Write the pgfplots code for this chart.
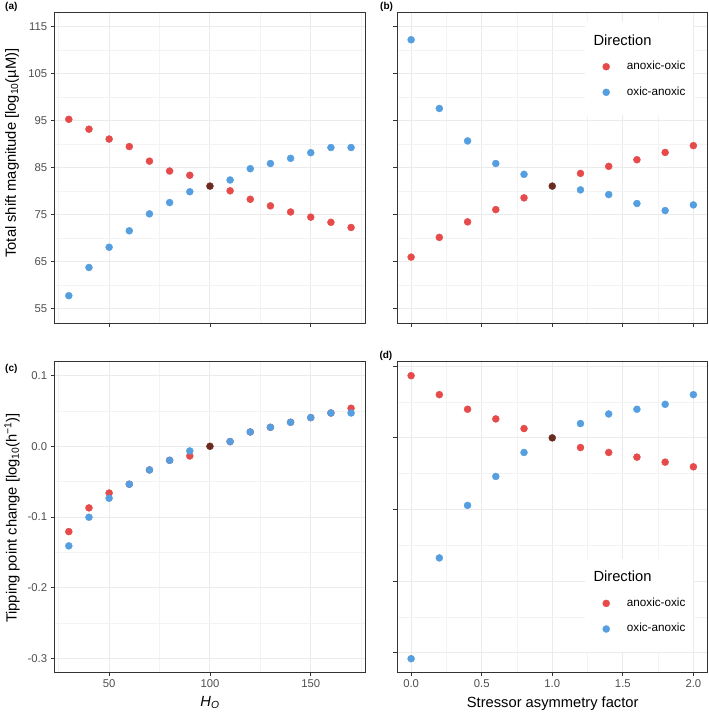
\documentclass[border=0pt]{standalone}
\usepackage{pgfplots}
\pgfplotsset{compat=1.18}
\usepackage{fontspec}
\setmainfont{Liberation Sans}
\definecolor{cred}{HTML}{E64A4A}
\definecolor{cblue}{HTML}{559FE0}
\definecolor{cbrown}{HTML}{6B2B20}
\definecolor{gridmaj}{HTML}{EBEBEB}
\definecolor{gridmin}{HTML}{F3F3F3}
\definecolor{axcol}{HTML}{333333}
\definecolor{ticktext}{HTML}{4D4D4D}
\newcommand{\tickfont}{\fontsize{11.3}{13}\selectfont}
\newcommand{\titlefont}{\fontsize{14.7}{17}\selectfont}
\newcommand{\legfont}{\fontsize{11.7}{14}\selectfont}
\newcommand{\tagfont}{\fontsize{10}{12}\selectfont\bfseries}
\newcommand{\tn}[1]{\textnormal{#1}}
\pgfplotsset{
  panel/.style={
    width=310.5pt, height=310.5pt, scale only axis,
    axis line style={axcol, line width=0.9pt},
    tick style={axcol, line width=0.9pt},
    major tick length=4pt, minor tick length=0pt,
    tick align=outside, xtick pos=bottom, ytick pos=left,
    grid=both,
    major grid style={gridmaj, line width=1pt},
    minor grid style={gridmin, line width=0.6pt},
    ticklabel style={font=\tickfont, text=ticktext},
  },
  nolabelx/.style={xticklabel style={opacity=0}},
  nolabely/.style={yticklabel style={opacity=0}},
  dots/.style={only marks, mark=*, mark size=3.5pt, color=#1},
  dirlegend/.style={
    legend image code/.code={\draw[##1] plot coordinates {(21pt,3pt)}; \path[draw=none,fill=none] (0pt,0pt) -- (41.7pt,0pt);},
    legend style={at={(0.6055,#1)}, anchor=north west, draw=none, fill=white,
      inner sep=0pt, row sep=0pt, column sep=0pt,
      nodes={inner sep=0pt, anchor=base west, text depth=}},
  },
}
\begin{document}
\begin{tikzpicture}[x=1pt,y=1pt]
\useasboundingbox (0,0) rectangle (709,712);
% (a)
\begin{axis}[panel, nolabelx, at={(54.7pt,389pt)}, anchor=south west,
  xmin=23, xmax=177, ymin=52, ymax=118,
  xtick={50,100,150}, minor xtick={25,75,125,175},
  ytick={55,65,75,85,95,105,115}, yticklabels={\tn{55},\tn{65},\tn{75},\tn{85},\tn{95},\tn{105},\tn{115}},
  minor ytick={60,70,80,90,100,110}]
\addplot[dots=cred] coordinates {(30,95.3)(40,93.2)(50,91.1)(60,89.5)(70,86.4)(80,84.3)(90,83.4)(110,80.1)(120,78.3)(130,76.9)(140,75.6)(150,74.5)(160,73.4)(170,72.3)};
\addplot[dots=cblue] coordinates {(30,57.8)(40,63.8)(50,68.1)(60,71.6)(70,75.2)(80,77.6)(90,79.9)(110,82.4)(120,84.8)(130,85.9)(140,87.0)(150,88.2)(160,89.3)(170,89.3)};
\addplot[dots=cbrown] coordinates {(100,81.1)};
\end{axis}
% (b)
\begin{axis}[panel, nolabelx, nolabely, dirlegend=0.970, at={(397pt,389pt)}, anchor=south west,
  xmin=-0.1, xmax=2.1, ymin=52, ymax=118,
  xtick={0,0.5,1,1.5,2}, minor xtick={0.25,0.75,1.25,1.75},
  ytick={55,65,75,85,95,105,115},
  minor ytick={60,70,80,90,100,110}]
\addlegendimage{empty legend}
\addlegendentry{\hspace*{-33.4pt}\titlefont Direction\rule[-8pt]{0pt}{31.2pt}}
\addplot[dots=cred] coordinates {(0,66.0)(0.2,70.2)(0.4,73.5)(0.6,76.1)(0.8,78.6)(1.2,83.8)(1.4,85.3)(1.6,86.7)(1.8,88.25)(2.0,89.7)};
\addlegendentry{\legfont anoxic-oxic\hspace*{8pt}\rule[-10pt]{0pt}{26.5pt}}
\addplot[dots=cblue] coordinates {(0,112.2)(0.2,97.6)(0.4,90.7)(0.6,85.9)(0.8,83.6)(1.2,80.3)(1.4,79.3)(1.6,77.4)(1.8,75.9)(2.0,77.1)};
\addlegendentry{\legfont oxic-anoxic\hspace*{8pt}\rule[-19.7pt]{0pt}{35.3pt}}
\addplot[dots=cbrown, forget plot] coordinates {(1,81.1)};
\end{axis}
% (c)
\begin{axis}[panel, at={(54.7pt,39.7pt)}, anchor=south west,
  xmin=23, xmax=177, ymin=-0.3192, ymax=0.1193,
  xtick={50,100,150}, xticklabels={\tn{50},\tn{100},\tn{150}}, minor xtick={25,75,125,175},
  ytick={-0.3,-0.2,-0.1,0,0.1}, yticklabels={\tn{-0.3},\tn{-0.2},\tn{-0.1},\tn{0.0},\tn{0.1}},
  minor ytick={-0.25,-0.15,-0.05,0.05}]
\addplot[dots=cred] coordinates {(30,-0.1205)(40,-0.087)(50,-0.066)(60,-0.0536)(70,-0.0334)(80,-0.0198)(90,-0.0137)(110,0.0066)(120,0.0202)(130,0.0268)(140,0.0339)(150,0.0405)(160,0.047)(170,0.0537)};
\addplot[dots=cblue] coordinates {(30,-0.1407)(40,-0.1002)(50,-0.0734)(60,-0.0536)(70,-0.0334)(80,-0.0198)(90,-0.0066)(110,0.0066)(120,0.0202)(130,0.0268)(140,0.0339)(150,0.0405)(160,0.047)(170,0.047)};
\addplot[dots=cbrown] coordinates {(100,0)};
\end{axis}
% (d)
\begin{axis}[panel, nolabely, dirlegend=0.3665, at={(397pt,39.7pt)}, anchor=south west,
  xmin=-0.1, xmax=2.1, ymin=-0.3275, ymax=0.1063,
  xtick={0,0.5,1,1.5,2}, xticklabels={\tn{0.0},\tn{0.5},\tn{1.0},\tn{1.5},\tn{2.0}}, minor xtick={0.25,0.75,1.25,1.75},
  ytick={-0.3,-0.2,-0.1,0,0.1},
  minor ytick={-0.25,-0.15,-0.05,0.05}]
\addlegendimage{empty legend}
\addlegendentry{\hspace*{-33.4pt}\titlefont Direction\rule[-8pt]{0pt}{31.2pt}}
\addplot[dots=cred] coordinates {(0,0.0869)(0.2,0.0604)(0.4,0.0400)(0.6,0.0265)(0.8,0.0130)(1.2,-0.0135)(1.4,-0.0204)(1.6,-0.0269)(1.8,-0.0339)(2.0,-0.0404)};
\addlegendentry{\legfont anoxic-oxic\hspace*{8pt}\rule[-10pt]{0pt}{26.5pt}}
\addplot[dots=cblue] coordinates {(0,-0.3085)(0.2,-0.1677)(0.4,-0.0943)(0.6,-0.0539)(0.8,-0.0204)(1.2,0.0200)(1.4,0.0334)(1.6,0.0400)(1.8,0.0469)(2.0,0.0604)};
\addlegendentry{\legfont oxic-anoxic\hspace*{8pt}\rule[-19.7pt]{0pt}{35.3pt}}
\addplot[dots=cbrown, forget plot] coordinates {(1,0)};
\end{axis}
% panel tags and titles
\node[anchor=west, inner sep=0pt] at (5,705.3) {\tagfont (a)};
\node[anchor=west, inner sep=0pt] at (380,705.3) {\tagfont (b)};
\node[anchor=west, inner sep=0pt] at (5,343) {\tagfont (c)};
\node[anchor=west, inner sep=0pt] at (379.3,356.3) {\tagfont (d)};
\node[rotate=90, inner sep=0pt] at (12,559) {\titlefont Total shift magnitude [log\textsubscript{10}(µM)]};
\node[rotate=90, inner sep=0pt] at (12,194) {\titlefont Tipping point change [log\textsubscript{10}(h\textsuperscript{−1})]};
\node[inner sep=0pt] at (210,9.3) {\titlefont\itshape H\textsubscript{O}};
\node[inner sep=0pt] at (552.7,8.7) {\titlefont Stressor asymmetry factor};
\end{tikzpicture}
\end{document}
